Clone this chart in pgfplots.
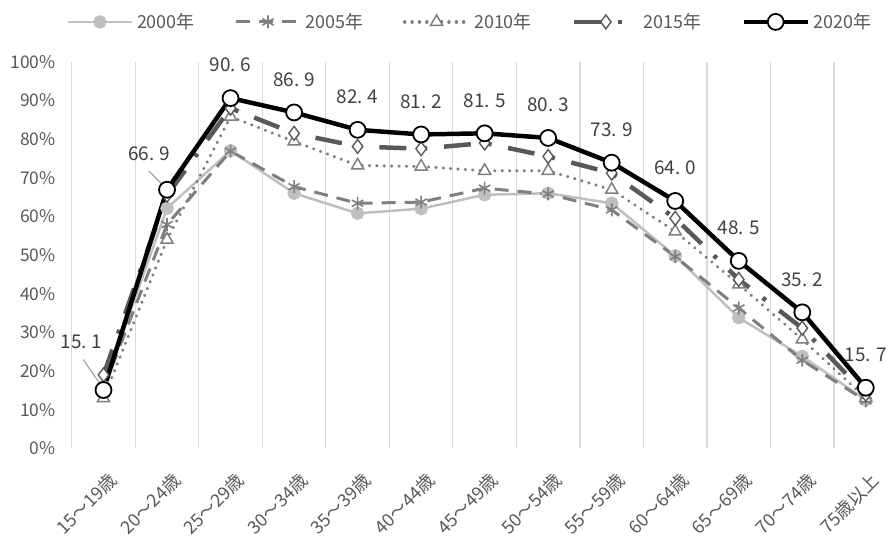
\documentclass[border=0pt]{standalone}
\usepackage{pgfplots}
\pgfplotsset{compat=1.18}
\usepackage{pgfplotstable}
\usepackage{fontspec}
\setmainfont{Noto Sans CJK JP}
\definecolor{c2000}{HTML}{BFBFBF}
\definecolor{c2005}{HTML}{7F7F7F}
\definecolor{c2010}{HTML}{7F7F7F}
\definecolor{c2015}{HTML}{595959}
\definecolor{tickc}{HTML}{595959}
\definecolor{labc}{HTML}{404040}
\definecolor{gridc}{HTML}{D9D9D9}
\pgfplotstableread{
x y2000 y2005 y2010 y2015 y2020 dx dy
0 16.0 15.5 13.0 19.0 15.1 -22 48
1 62.1 57.9 54.0 65.5 66.9 -18 36
2 77.0 76.9 85.8 88.0 90.6 0 33
3 66.0 67.7 79.4 81.5 86.9 0 33
4 60.8 63.4 73.2 78.1 82.4 0 33
5 62.0 63.7 72.9 77.5 81.2 0 33
6 65.6 67.3 71.8 79.0 81.5 0 33
7 66.0 65.8 71.8 75.5 80.3 0 33
8 63.4 61.7 66.9 71.2 73.9 0 33
9 49.8 49.6 56.1 59.5 64.0 0 33
10 33.8 36.3 42.4 43.7 48.5 0 33
11 23.8 22.8 28.2 31.1 35.2 0 33
12 12.5 12.3 13.0 14.0 15.7 0 33
}\data
\newcommand{\rl}[1]{\rotatebox{45}{#1}}
\begin{document}
\begin{tikzpicture}
\begin{axis}[
  scale only axis, width=816pt, height=388pt,
  xmin=-0.5, xmax=12.3, ymin=0, ymax=100,
  /pgf/number format/assume math mode=true,
  axis line style={draw=none},
  major tick length=0pt, minor tick length=0pt,
  xtick={0,...,12},
  minor xtick={-0.5,0.5,...,11.5},
  xminorgrids=true,
  minor x grid style={gridc, line width=1.2pt},
  xticklabels={\rl{15～19歳},\rl{20～24歳},\rl{25～29歳},\rl{30～34歳},\rl{35～39歳},\rl{40～44歳},\rl{45～49歳},\rl{50～54歳},\rl{55～59歳},\rl{60～64歳},\rl{65～69歳},\rl{70～74歳},\rl{75歳以上}},
  x tick label style={anchor=north east, inner sep=0pt, yshift=-23pt, xshift=16pt, font=\fontsize{18}{20}\selectfont, text=tickc},
  ytick={0,10,...,100},
  yticklabel={\pgfmathprintnumber{\tick}\%},
  y tick label style={font=\fontsize{17.5}{19}\selectfont, text=tickc, xshift=-16pt, anchor=east, inner sep=0pt},
  clip=false,
  legend columns=5,
  legend style={draw=none, fill=none, at={(0.49,1)}, anchor=center, yshift=40pt,
    font=\fontsize{18}{20}\selectfont, text=tickc,
    /tikz/every odd column/.append style={column sep=2pt},
    /tikz/every even column/.append style={column sep=38pt}},
  legend image code/.code={\draw[mark repeat=2, mark phase=2] plot coordinates {(0pt,0pt) (32pt,0pt) (64pt,0pt)};},
]
\addplot[c2000, line width=2.5pt, mark=*, mark size=5.5pt, mark options={solid, fill=c2000, draw=c2000}] table[x=x, y=y2000] \data;
\addlegendentry{2000年}
\addplot[c2005, line width=3pt, dash pattern=on 14pt off 9pt, mark=asterisk, mark size=6.5pt, mark options={solid, line width=1.6pt}] table[x=x, y=y2005] \data;
\addlegendentry{2005年}
\addplot[c2010, line width=3.4pt, line cap=round, dash pattern=on 0.1pt off 7.3pt, mark=triangle*, mark size=7pt, mark options={solid, fill=white, draw=c2010, line width=1.5pt, line cap=butt}] table[x=x, y=y2010] \data;
\addlegendentry{2010年}
\addplot[c2015, line width=4.5pt, dash pattern=on 27pt off 17pt on 4pt off 17pt, mark=diamond*, mark size=7pt, mark options={solid, fill=white, draw=c2015, line width=1.4pt}] table[x=x, y=y2015] \data;
\addlegendentry{2015年}
\addplot[black, line width=4.5pt, mark=*, mark size=8pt, mark options={solid, fill=white, draw=black, line width=1.8pt},
  visualization depends on={\thisrow{dx}\as\dx},
  visualization depends on={\thisrow{dy}\as\dy},
  nodes near coords={\pgfmathprintnumber[fixed,precision=1,zerofill,set decimal separator={.\hspace{5pt}}]{\pgfplotspointmeta}},
  point meta=explicit,
  every node near coord/.append style={anchor=center, xshift=\dx pt, yshift=\dy pt, font=\fontsize{19}{21}\selectfont, text=labc},
] table[x=x, y=y2020, meta=y2020] \data;
\addlegendentry{2020年}
\draw[color=gray!80, line width=1pt] (axis cs:-0.32,23.0) -- (axis cs:-0.06,16.8);
\draw[color=gray!80, line width=1pt] (axis cs:0.71,71.8) -- (axis cs:0.93,68.2);
\end{axis}
\path ([xshift=-72pt, yshift=62pt]current axis.north west);
\path ([xshift=-72pt, yshift=-93pt]current axis.south west);
\end{tikzpicture}
\end{document}
